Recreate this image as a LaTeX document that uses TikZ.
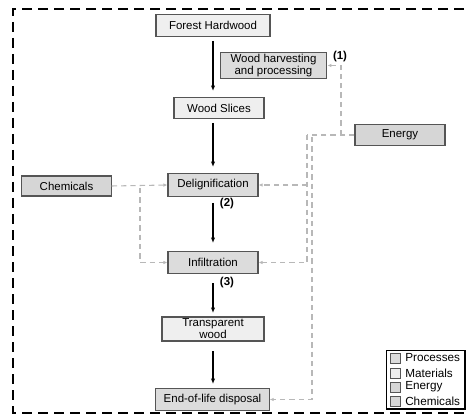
\documentclass[tikz,border=0pt]{standalone}
\usepackage{fontspec}
\setmainfont{Liberation Sans}
\usetikzlibrary{arrows.meta}
\definecolor{matfill}{HTML}{EFEFEF}
\definecolor{procfill}{HTML}{DCDCDC}
\definecolor{enfill}{HTML}{D6D6D6}
\definecolor{boxline}{HTML}{555555}
\definecolor{dashgrey}{HTML}{B8B8B8}
\begin{document}
\begin{tikzpicture}[x=0.75pt,y=-0.75pt,
  every node/.style={font=\fontsize{8.6}{10}\selectfont, inner sep=0pt, align=center},
  basebox/.style={draw=boxline, line width=0.8pt},
  matbox/.style={basebox, fill=matfill},
  procbox/.style={basebox, fill=procfill},
  enbox/.style={basebox, fill=enfill},
  flow/.style={line width=0.8pt, -{Latex[length=4pt,width=3.2pt]}},
  aux/.style={draw=dashgrey, line width=0.8pt, dash pattern=on 4pt off 3pt},
  auxarrow/.style={aux, -{Latex[length=3pt,width=2.6pt]}},
  num/.style={font=\fontsize{8.6}{10}\selectfont\bfseries},
  legsq/.style={draw=boxline, line width=0.6pt, minimum width=7.5pt, minimum height=7.5pt},
  legtxt/.style={anchor=west, font=\fontsize{8.8}{10}\selectfont}
]
\useasboundingbox (0,0) rectangle (470,416);
% outer dashed frame
\draw[line width=0.9pt, dash pattern=on 7.5pt off 4.5pt] (480,9) -- (13,9) -- (13,413) -- (480,413);

% nodes
\node[matbox, minimum width=85.5pt, minimum height=17pt] (forest) at (213,25.5) {Forest Hardwood};
\node[procbox, minimum width=80pt, minimum height=20pt] (harv) at (273.5,65.5) {Wood harvesting\\[-1pt]and processing};
\node[matbox, minimum width=67.5pt, minimum height=15.5pt] (slices) at (219,108) {Wood Slices};
\node[enbox, minimum width=67.5pt, minimum height=16pt] (energy) at (400,135) {Energy};
\node[enbox, minimum width=67pt, minimum height=15pt] (chem) at (66.5,186) {Chemicals};
\node[procbox, minimum width=67.5pt, minimum height=17pt] (delig) at (213,185) {Delignification};
\node[procbox, minimum width=67.5pt, minimum height=17pt] (infil) at (213,262.5) {Infiltration};
\node[matbox, minimum width=76.5pt, minimum height=18pt] (transp) at (213,329) {Transparent\\[-1pt]wood};
\node[procbox, minimum width=85pt, minimum height=17pt] (eol) at (212.5,399.5) {End-of-life disposal};

% main flow
\coordinate (a1s) at (213,41);
\coordinate (a1e) at (213,91);
\draw[flow] (a1s) -- (a1e);
\coordinate (a2s) at (213,123);
\coordinate (a2e) at (213,167);
\draw[flow] (a2s) -- (a2e);
\coordinate (a3s) at (213,203);
\coordinate (a3e) at (213,243);
\draw[flow] (a3s) -- (a3e);
\coordinate (a4s) at (213,283);
\coordinate (a4e) at (213,313);
\draw[flow] (a4s) -- (a4e);
\coordinate (a5s) at (213,351);
\coordinate (a5e) at (213,384);
\draw[flow] (a5s) -- (a5e);

% step labels
\node[num] (n1) at (340,57) {(1)};
\node[num] (n2) at (227,204) {(2)};
\node[num] (n3) at (227,283) {(3)};

% chemicals inputs
\draw[auxarrow] (chem.east) -- (delig.west);
\coordinate (c1) at (140,188);
\draw[auxarrow] (c1) |- (infil.west);

% energy inputs
\coordinate (e1) at (307,135);
\coordinate (e2) at (312,137);
\coordinate (e3) at (341,135);
\draw[aux] (energy.west) -- (e1);
\draw[auxarrow] (e1) |- (infil.east);
\draw[auxarrow] (e1 |- delig.east) -- (delig.east);
\draw[auxarrow] (e2) |- (eol.east);
\draw[auxarrow] (e3) |- (harv.east);

% legend
\node[draw=black, line width=1pt, minimum width=59pt, minimum height=44pt] (legend) at (425.5,379.5) {};
\node[legsq, fill=procfill] (l1) at (395,358) {};
\node[legtxt] (t1) at (405,358) {Processes};
\node[legsq, fill=matfill] (l2) at (395,373) {};
\node[legtxt] (t2) at (405,373) {Materials};
\node[legsq, fill=enfill] (l3) at (395,387) {};
\node[legtxt] (t3) at (405,387) {Energy};
\node[legsq, fill=enfill] (l4) at (395,401) {};
\node[legtxt] (t4) at (405,401) {Chemicals};
\end{tikzpicture}
\end{document}
